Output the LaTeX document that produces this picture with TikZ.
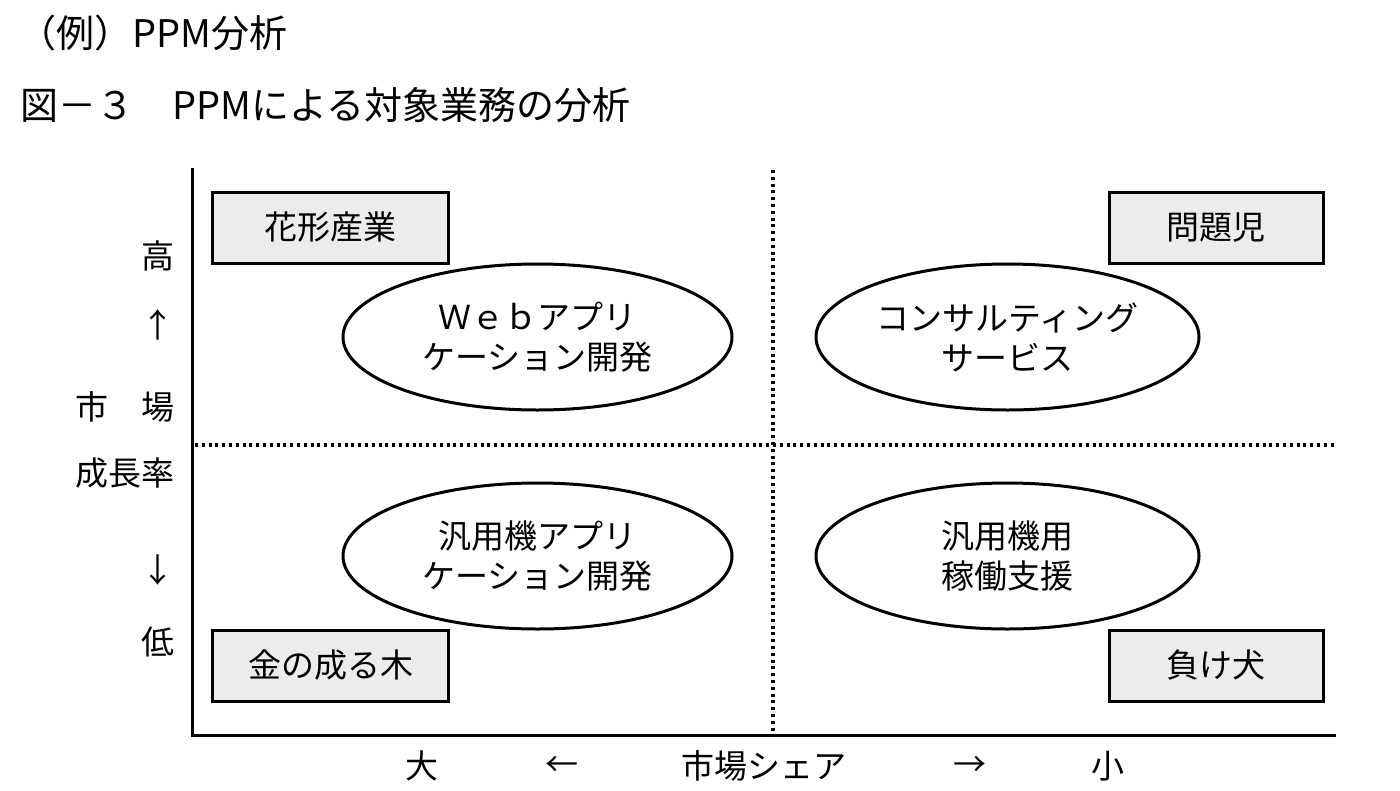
\documentclass[tikz,border=0pt]{standalone}
\usepackage{fontspec}
\setmainfont{Noto Sans CJK JP}
\usetikzlibrary{shapes.geometric}
\tikzset{
  lbl/.style={font=\fontsize{33}{40}\selectfont, inner sep=0pt},
  ttl/.style={font=\fontsize{38}{44}\selectfont, inner sep=0pt, anchor=west},
  quad/.style={draw, line width=3pt, fill=gray!15, minimum width=236pt, minimum height=71pt, font=\fontsize{33}{40}\selectfont},
  quadn/.style={quad, minimum width=214pt},
  bubble/.style={draw, ellipse, line width=3pt, minimum width=389pt, minimum height=146pt, align=center, inner sep=0pt, font=\fontsize{33}{40}\selectfont},
  bubbler/.style={bubble, minimum width=383pt},
  axis/.style={line width=3pt},
  divider/.style={line width=3.2pt, dash pattern=on 3pt off 3.8pt}
}
\begin{document}
\begin{tikzpicture}[x=1pt, y=-1pt]
\useasboundingbox (0,0) rectangle (1400,790);
% titles
\node[ttl] (t1) at (18,33) {（例）PPM分析};
\node[ttl] (t2) at (20,105) {図－３　PPMによる対象業務の分析};
% axes
\coordinate (o) at (192,735);
\coordinate (ytop) at (192,168);
\coordinate (xend) at (1336,735);
\draw[axis] (ytop) -- (o) -- (xend);
% dividers
\coordinate (vtop) at (773,170);
\coordinate (vbot) at (773,733);
\coordinate (hl) at (195,445);
\coordinate (hr) at (1336,445);
\draw[divider] (vtop) -- (vbot);
\draw[divider] (hl) -- (hr);
% quadrant labels
\node[quad] (star) at (330,227.5) {花形産業};
\node[quadn] (problem) at (1216,227.5) {問題児};
\node[quad] (cash) at (330.5,665.5) {金の成る木};
\node[quadn] (dog) at (1216,665.5) {負け犬};
% bubbles
\node[bubble] (web) at (537.5,337) {Ｗｅｂアプリ\\ケーション開発};
\node[bubbler] (consult) at (1007.5,337) {コンサルティング\\サービス};
\node[bubble] (main) at (537.5,556) {汎用機アプリ\\ケーション開発};
\node[bubbler] (ops) at (1007.5,556) {汎用機用\\稼働支援};
% y-axis labels
\node[lbl] (hi) at (158,256) {高};
\node[lbl] (up) at (158,325) {↑};
\node[lbl, anchor=west] (mkt) at (75,407) {市　場};
\node[lbl, anchor=west] (grw) at (75,473) {成長率};
\node[lbl] (down) at (158,570) {↓};
\node[lbl] (lo) at (158,642) {低};
% x-axis labels
\node[lbl] (big) at (422,766) {大};
\node[lbl] (left) at (562,766) {←};
\node[lbl] (share) at (764,766) {市場シェア};
\node[lbl] (right) at (970,766) {→};
\node[lbl] (small) at (1108,766) {小};
\end{tikzpicture}
\end{document}
